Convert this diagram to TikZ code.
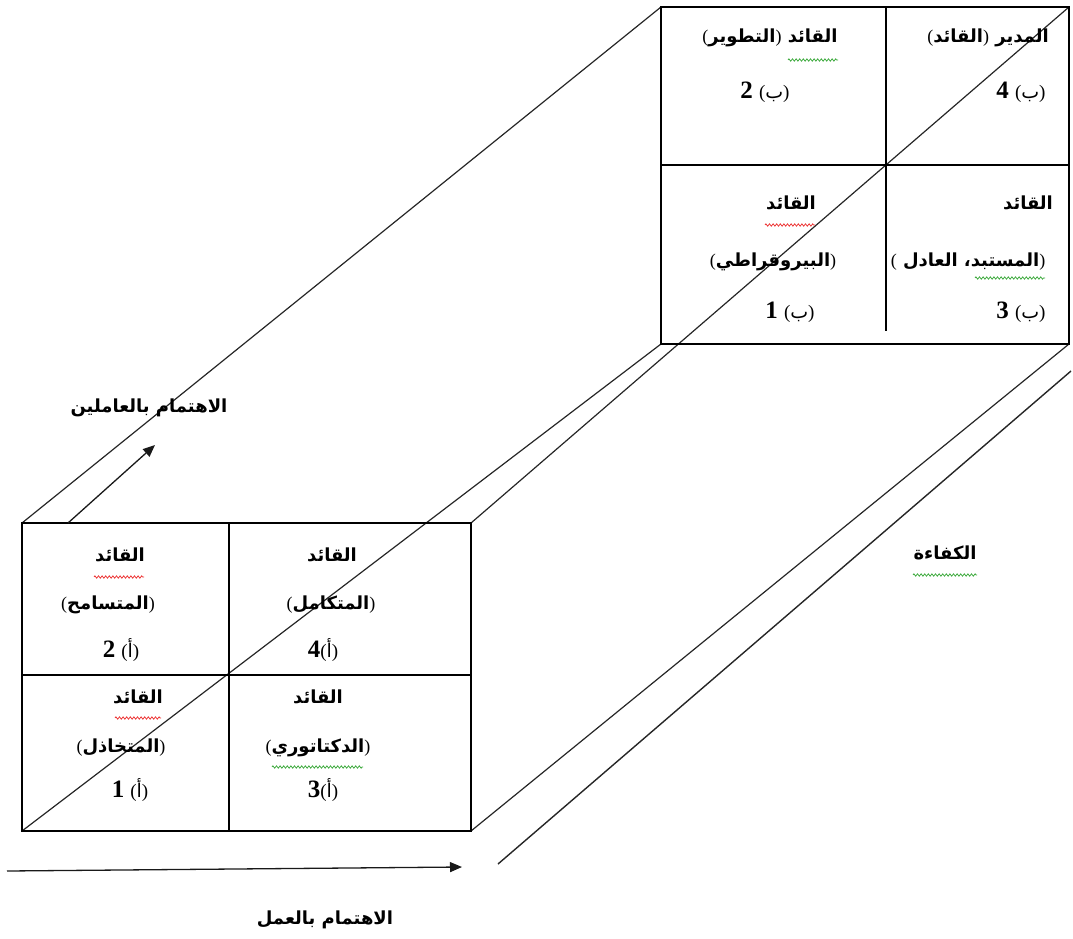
\documentclass[tikz,border=0pt]{standalone}
\usepackage{fontspec}
\setmainfont{Liberation Serif}
\newfontfamily\arabicfont[Script=Arabic]{DejaVu Sans}
\TeXXeTstate=1
\usetikzlibrary{arrows.meta,decorations.pathmorphing}

\definecolor{spellred}{RGB}{235,40,40}
\definecolor{spellgreen}{RGB}{50,165,50}

% right-to-left run, serif brackets, and the bold Latin digit of each cell
\newcommand\rtl[1]{\beginR#1\endR}
\newcommand\lp{{\rmfamily\mdseries(}}
\newcommand\rp{{\rmfamily\mdseries)}}
\newcommand\nm[1]{{\rmfamily\bfseries\fontsize{25}{27}\selectfont #1}}

\tikzset{
  gridline/.style={line width=1.5pt, line cap=rect},
  depthline/.style={line width=1.2pt, black!85},
  axisarrow/.style={line width=1.3pt, black!90, -{Triangle[length=12pt,width=10pt]}},
  arlabel/.style={font=\arabicfont\bfseries\fontsize{18}{21}\selectfont, inner sep=0pt},
  cellkey/.style={font=\arabicfont\fontsize{19}{22}\selectfont, inner sep=0pt},
  squig/.style={line width=0.7pt, decorate,
    decoration={zigzag, amplitude=1.2pt, segment length=3.6pt}},
}

\begin{document}
\begin{tikzpicture}[x=1pt,y=-1pt]
\useasboundingbox (0,0) rectangle (1073,939);

% ---- front grid (a) ----
\coordinate (Ftl) at (22,523);
\coordinate (Ftr) at (471,523);
\coordinate (Fbr) at (471,831);
\coordinate (Fbl) at (22,831);
\coordinate (Ftm) at (229,523);
\coordinate (Fbm) at (229,831);
\coordinate (Flm) at (22,675);
\coordinate (Frm) at (471,675);

% ---- back grid (b) ----
\coordinate (Btl) at (661,7);
\coordinate (Btr) at (1069,7);
\coordinate (Bbr) at (1069,344);
\coordinate (Bbl) at (661,344);
\coordinate (Btm) at (886,7);
\coordinate (Bvm) at (886,330);
\coordinate (Blm) at (661,165);
\coordinate (Brm) at (1069,165);

% depth edges of the prism
\draw[depthline] (Ftl) -- (Btl);
\draw[depthline] (Fbl) -- (Bbl);
\draw[depthline] (Ftr) -- (Btr);
\draw[depthline] (Fbr) -- (Bbr);

% efficiency axis
\coordinate (Es) at (498,864);
\coordinate (Ee) at (1071,371);
\draw[depthline, line width=1.4pt] (Es) -- (Ee);

% boxes
\draw[gridline] (Ftl) rectangle (Fbr);
\draw[gridline] (Ftm) -- (Fbm);
\draw[gridline] (Flm) -- (Frm);
\draw[gridline] (Btl) rectangle (Bbr);
\draw[gridline] (Btm) -- (Bvm);
\draw[gridline] (Blm) -- (Brm);

% axes of concern
\coordinate (Us) at (68,523);
\coordinate (Ue) at (155,445);
\draw[axisarrow] (Us) -- (Ue);
\coordinate (Hs) at (7,871);
\coordinate (He) at (462,867);
\draw[axisarrow] (Hs) -- (He);

% axis labels
\node[arlabel] (lPeople) at (149,408) {\rtl{الاهتمام بالعاملين}};
\node[arlabel] (lTask) at (325,920) {\rtl{الاهتمام بالعمل}};
\node[arlabel] (lEff) at (945,553) {\rtl{الكفاءة}};

% ---- front cells ----
\node[arlabel] (a2t) at (120,555) {\rtl{القائد}};
\node[arlabel] (a2m) at (108,605) {\lp\rtl{المتسامح}\rp};
\node[cellkey] (a2n) at (121,650) {\nm{2}\ \lp\rtl{أ}\rp};

\node[arlabel] (a4t) at (332,555) {\rtl{القائد}};
\node[arlabel] (a4m) at (331,605) {\lp\rtl{المتكامل}\rp};
\node[cellkey] (a4n) at (323,650) {\nm{4}\lp\rtl{أ}\rp};

\node[arlabel] (a1t) at (138,697) {\rtl{القائد}};
\node[arlabel] (a1m) at (121,748) {\lp\rtl{المتخاذل}\rp};
\node[cellkey] (a1n) at (130,790) {\nm{1}\ \lp\rtl{أ}\rp};

\node[arlabel] (a3t) at (318,697) {\rtl{القائد}};
\node[arlabel] (a3m) at (318,748) {\lp\rtl{الدكتاتوري}\rp};
\node[cellkey] (a3n) at (323,790) {\nm{3}\lp\rtl{أ}\rp};

% ---- back cells ----
\node[arlabel] (b2t) at (770,38) {\lp\rtl{التطوير}\rp\ \rtl{القائد}};
\node[cellkey] (b2n) at (765,92) {\nm{2}\ \lp\rtl{ب}\rp};

\node[arlabel] (b4t) at (988,38) {\lp\rtl{القائد}\rp\ \rtl{المدير}};
\node[cellkey] (b4n) at (1021,92) {\nm{4}\ \lp\rtl{ب}\rp};

\node[arlabel] (b1t) at (791,203) {\rtl{القائد}};
\node[arlabel] (b1m) at (773,262) {\lp\rtl{البيروقراطي}\rp};
\node[cellkey] (b1n) at (790,312) {\nm{1}\ \lp\rtl{ب}\rp};

\node[arlabel] (b3t) at (1028,203) {\rtl{القائد}};
\node[arlabel] (b3m) at (968,262) {\lp\ \rtl{المستبد، العادل}\rp};
\node[cellkey] (b3n) at (1021,312) {\nm{3}\ \lp\rtl{ب}\rp};

% proofing underlines
\draw[squig, spellred]   (94,577) -- (144,577);
\draw[squig, spellred]   (115,718) -- (161,718);
\draw[squig, spellgreen] (272,767) -- (363,767);
\draw[squig, spellgreen] (788,60) -- (838,60);
\draw[squig, spellred]   (765,225) -- (815,225);
\draw[squig, spellgreen] (975,278) -- (1045,278);
\draw[squig, spellgreen] (913,575) -- (977,575);
\end{tikzpicture}
\end{document}
